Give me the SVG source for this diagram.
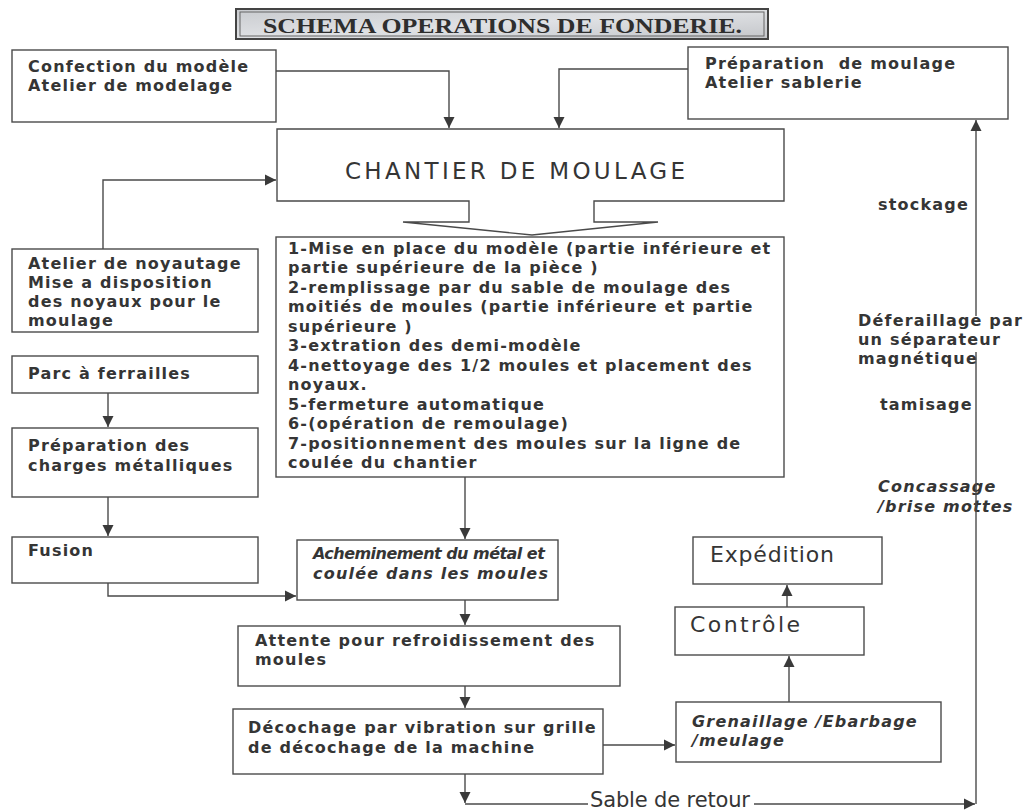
<svg xmlns="http://www.w3.org/2000/svg" width="1027" height="810" viewBox="0 0 1027 810">
<style>
.box{fill:#ffffff;stroke:#4a4a4a;stroke-width:1.4}
.ln{fill:none;stroke:#4a4a4a;stroke-width:1.4}
.t{font-family:"DejaVu Sans",sans-serif;font-weight:bold;font-size:16px;letter-spacing:1.2px;fill:#353535}
.it{font-style:italic}
.r{font-family:"DejaVu Sans",sans-serif;font-size:20px;fill:#353535}
.big{font-size:23px}
.mid{font-size:22px}
.ttl{font-family:"Liberation Serif",serif;font-weight:bold;font-size:21px;fill:#2e2e2e}
</style>
<defs>
<marker id="ah" viewBox="0 0 10 10" refX="10" refY="5" markerWidth="11" markerHeight="12" markerUnits="userSpaceOnUse" orient="auto">
<path d="M0,0 L10,5 L0,10 z" fill="#3a3a3a"/>
</marker>
<linearGradient id="bg" x1="0" y1="0" x2="1" y2="1">
<stop offset="0" stop-color="#c9cbcf"/>
<stop offset="0.5" stop-color="#dfe1e4"/>
<stop offset="1" stop-color="#c4c6ca"/>
</linearGradient>
</defs>
<rect width="1027" height="810" fill="#ffffff"/>

<g id="title">
<rect x="236" y="9" width="532" height="30" fill="url(#bg)" stroke="#444" stroke-width="2"/>
<rect x="240" y="12" width="524" height="24" fill="none" stroke="#666" stroke-width="1"/>
<text class="ttl" x="263" y="33" textLength="479" lengthAdjust="spacingAndGlyphs">SCHEMA OPERATIONS DE FONDERIE.</text>
</g>

<g id="confection">
<rect class="box" x="12" y="50" width="264" height="72"/>
<text class="t" x="28" y="72">Confection du modèle</text>
<text class="t" x="28" y="91">Atelier de modelage</text>
</g>

<g id="preparation-moulage">
<rect class="box" x="688" y="47" width="320" height="72"/>
<text class="t" x="705" y="69" xml:space="preserve">Préparation  de moulage</text>
<text class="t" x="705" y="88">Atelier sablerie</text>
</g>

<g id="chantier">
<path class="box" d="M277,129 H784 V201 H594 V222 H658 L532,235 L403,222 H469 V201 H277 Z"/>
<text class="r big" x="345" y="179" textLength="340" lengthAdjust="spacing">CHANTIER DE MOULAGE</text>
</g>

<g id="operations">
<rect class="box" x="276" y="237" width="508" height="240"/>
<text class="t" x="288" y="254">1-Mise en place du modèle (partie inférieure et</text>
<text class="t" x="288" y="273">partie supérieure de la pièce )</text>
<text class="t" x="288" y="293">2-remplissage par du sable de moulage des</text>
<text class="t" x="288" y="312">moitiés de moules (partie inférieure et partie</text>
<text class="t" x="288" y="332">supérieure )</text>
<text class="t" x="288" y="351">3-extration des demi-modèle</text>
<text class="t" x="288" y="371">4-nettoyage des 1/2 moules et placement des</text>
<text class="t" x="288" y="390">noyaux.</text>
<text class="t" x="288" y="410">5-fermeture automatique</text>
<text class="t" x="288" y="429">6-(opération de remoulage)</text>
<text class="t" x="288" y="449">7-positionnement des moules sur la ligne de</text>
<text class="t" x="288" y="468">coulée du chantier</text>
</g>

<g id="noyautage">
<rect class="box" x="12" y="249" width="246" height="83"/>
<text class="t" x="28" y="269">Atelier de noyautage</text>
<text class="t" x="28" y="288">Mise a disposition</text>
<text class="t" x="28" y="307">des noyaux pour le</text>
<text class="t" x="28" y="326">moulage</text>
</g>

<g id="parc">
<rect class="box" x="12" y="356" width="246" height="37"/>
<text class="t" x="28" y="379">Parc à ferrailles</text>
</g>

<g id="charges">
<rect class="box" x="12" y="428" width="246" height="69"/>
<text class="t" x="28" y="451">Préparation des</text>
<text class="t" x="28" y="471">charges métalliques</text>
</g>

<g id="fusion">
<rect class="box" x="12" y="537" width="246" height="46"/>
<text class="t" x="28" y="556">Fusion</text>
</g>

<g id="acheminement">
<rect class="box" x="297" y="540" width="261" height="60"/>
<text class="t it" x="313" y="559" textLength="233" lengthAdjust="spacing">Acheminement du métal et</text>
<text class="t it" x="313" y="579">coulée dans les moules</text>
</g>

<g id="attente">
<rect class="box" x="238" y="626" width="382" height="60"/>
<text class="t" x="255" y="646">Attente pour refroidissement des</text>
<text class="t" x="255" y="665">moules</text>
</g>

<g id="decochage">
<rect class="box" x="233" y="709" width="370" height="65"/>
<text class="t" x="248" y="733">Décochage par vibration sur grille</text>
<text class="t" x="248" y="753">de décochage de la machine</text>
</g>

<g id="grenaillage">
<rect class="box" x="676" y="702" width="265" height="60"/>
<text class="t it" x="692" y="727">Grenaillage /Ebarbage</text>
<text class="t it" x="692" y="746">/meulage</text>
</g>

<g id="controle">
<rect class="box" x="675" y="607" width="189" height="48"/>
<text class="r mid" x="690" y="632" textLength="110" lengthAdjust="spacing">Contrôle</text>
</g>

<g id="expedition">
<rect class="box" x="693" y="537" width="189" height="47"/>
<text class="r mid" x="710" y="562" textLength="124" lengthAdjust="spacing">Expédition</text>
</g>

<g id="labels">
<text class="t" x="878" y="210">stockage</text>
<text class="t" x="858" y="326">Déferaillage par</text>
<text class="t" x="858" y="345">un séparateur</text>
<text class="t" x="858" y="364">magnétique</text>
<text class="t" x="880" y="410">tamisage</text>
<text class="t it" x="878" y="492">Concassage</text>
<text class="t it" x="878" y="512">/brise mottes</text>
<text class="r" x="590" y="807" style="font-size:21px" textLength="160" lengthAdjust="spacing">Sable de retour</text>
</g>

<g id="connectors">
<path class="ln" d="M276,71 H449 V128" marker-end="url(#ah)"/>
<path class="ln" d="M688,69 H559 V128" marker-end="url(#ah)"/>
<path class="ln" d="M103,249 V180 H276" marker-end="url(#ah)"/>
<path class="ln" d="M108,393 V427" marker-end="url(#ah)"/>
<path class="ln" d="M108,497 V536" marker-end="url(#ah)"/>
<path class="ln" d="M108,583 V596 H296" marker-end="url(#ah)"/>
<path class="ln" d="M465,477 V539" marker-end="url(#ah)"/>
<path class="ln" d="M465,600 V625" marker-end="url(#ah)"/>
<path class="ln" d="M465,686 V708" marker-end="url(#ah)"/>
<path class="ln" d="M603,745 H675" marker-end="url(#ah)"/>
<path class="ln" d="M789,702 V656" marker-end="url(#ah)"/>
<path class="ln" d="M787,607 V585" marker-end="url(#ah)"/>
<path class="ln" d="M465,774 V803" marker-end="url(#ah)"/>
<path class="ln" d="M465,804 H588"/>
<path class="ln" d="M754,804 H975" marker-end="url(#ah)"/>
<path class="ln" d="M976,804 V352"/>
<path class="ln" d="M976,316 V120" marker-end="url(#ah)"/>
</g>
</svg>
